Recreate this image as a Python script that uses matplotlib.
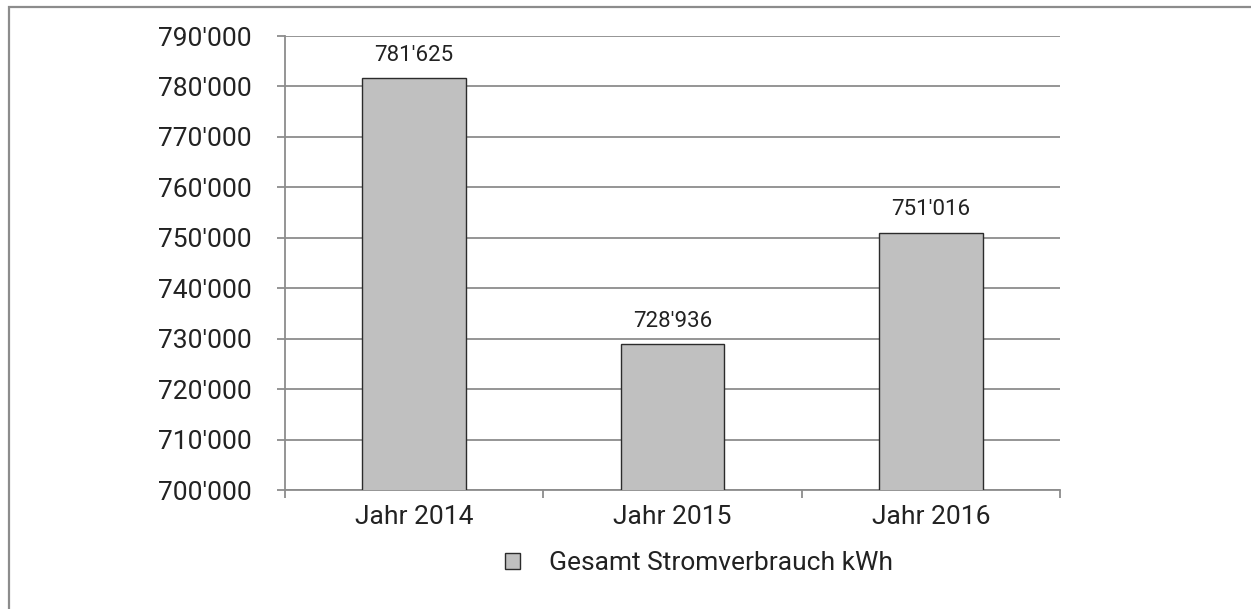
import matplotlib
matplotlib.use("Agg")
import matplotlib.pyplot as plt
from matplotlib.patches import Patch, Rectangle
from matplotlib.ticker import FuncFormatter, FixedLocator

# data
years = ["Jahr 2014", "Jahr 2015", "Jahr 2016"]
verbrauch = [781625, 728936, 751016]
series_name = "Gesamt Stromverbrauch kWh"
y_ticks = list(range(700000, 790001, 10000))

plt.rcParams['font.family'] = ['Roboto', 'DejaVu Sans']

GRID = '#8c8c8c'
BAR = '#c0c0c0'
TXT = '#222222'


def fmt(v, pos=None):
    return "{:,.0f}".format(v).replace(",", "'")


fig = plt.figure(figsize=(12.51, 6.09), dpi=100)
ax = fig.add_axes([285 / 1251, 1 - 490 / 609, 775 / 1251, 454 / 609])

# outer frame (cropped at right and bottom)
fig.patches.append(Rectangle((8.5 / 1251, -0.1), 1.2, 1 - 6.5 / 609 + 0.1,
                             transform=fig.transFigure, fill=False,
                             edgecolor=GRID, linewidth=1.6, clip_on=False))

x = list(range(len(years)))
bars = ax.bar(x, verbrauch, width=0.4, color=BAR, edgecolor='#2b2b2b',
              linewidth=1.0, zorder=3)

for xi, v in zip(x, verbrauch):
    ax.annotate(fmt(v), (xi, v), xytext=(0, 9), textcoords='offset points',
                ha='center', va='bottom', fontsize=16, color=TXT)

ax.set_xlim(-0.5, 2.5)
ax.set_ylim(700000, 790000)
ax.yaxis.set_major_locator(FixedLocator(y_ticks))
ax.yaxis.set_major_formatter(FuncFormatter(fmt))
ax.set_xticks(x)
ax.set_xticklabels(years)
ax.set_xticks([-0.5, 0.5, 1.5, 2.5], minor=True)

ax.grid(axis='y', color=GRID, linewidth=1.3, zorder=0)
for s in ['top', 'right']:
    ax.spines[s].set_visible(False)
for s in ['left', 'bottom']:
    ax.spines[s].set_color(GRID)
    ax.spines[s].set_linewidth(1.3)

ax.tick_params(axis='y', length=5.8, width=1.3, color=GRID, labelsize=19,
               labelcolor=TXT, pad=18)
ax.tick_params(axis='x', which='major', length=0, labelsize=19,
               labelcolor=TXT, pad=11)
ax.tick_params(axis='x', which='minor', length=5.8, width=1.3, color=GRID)

handle = Patch(facecolor=BAR, edgecolor='#2b2b2b', linewidth=1.0)
fig.legend([handle], [series_name], loc='center',
           bbox_to_anchor=(0.5588, 1 - 563 / 609), frameon=False,
           fontsize=19, handlelength=0.57, handleheight=0.57,
           handletextpad=1.1, labelcolor=TXT)

fig.savefig('out.png', dpi=100)
